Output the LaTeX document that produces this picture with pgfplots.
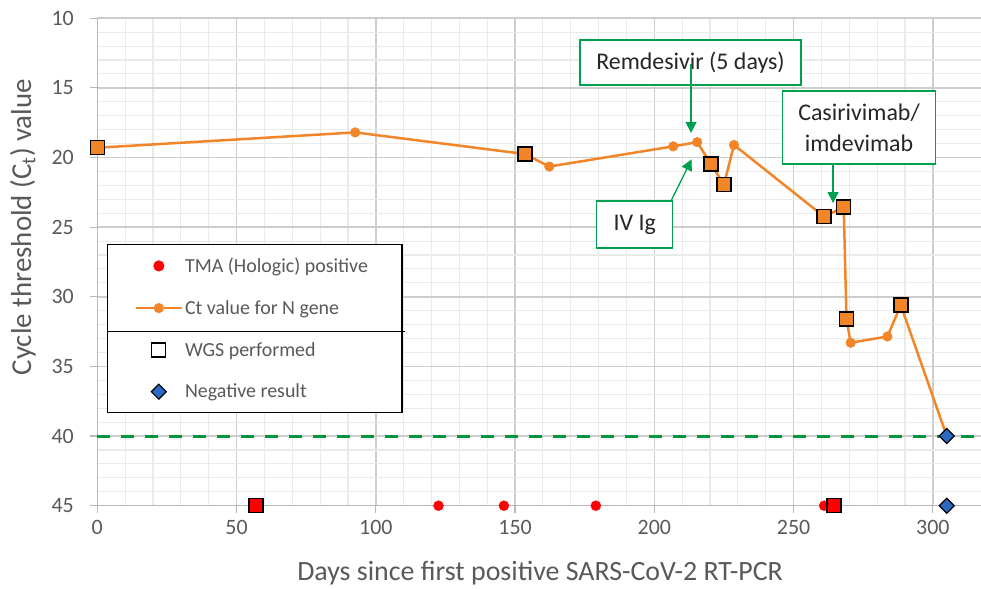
\documentclass[border=0pt]{standalone}
\usepackage{fontspec}
\setmainfont{Carlito}
\usepackage{pgfplots}
\pgfplotsset{compat=1.18}
\usetikzlibrary{arrows.meta}
\definecolor{ctorange}{RGB}{242,133,39}
\definecolor{tmared}{RGB}{255,0,0}
\definecolor{negblue}{RGB}{45,105,195}
\definecolor{annogreen}{RGB}{0,160,80}
\definecolor{dashgreen}{RGB}{0,150,60}
\definecolor{txtgray}{RGB}{89,89,89}
\definecolor{majgrid}{RGB}{205,205,205}
\definecolor{mingrid}{RGB}{234,234,234}
\definecolor{axgray}{RGB}{185,185,185}
\pgfplotsset{mylegimg/.style={legend image code/.code={\draw[mark repeat=2,mark phase=2] plot coordinates {(0bp,0bp) (23bp,0bp) (46bp,0bp)};}}}
\begin{document}
\begin{tikzpicture}
\path[use as bounding box] (-97.3bp,-83.3bp) rectangle (883.7bp,505.7bp);
\begin{axis}[
  at={(0,0)}, anchor=south west,
  scale only axis, width=883.7bp, height=487.5bp,
  xmin=0, xmax=317.3, ymin=10, ymax=45, y dir=reverse,
  clip=false,
  axis x line*=bottom, axis y line*=left,
  axis line style={-, axgray, line width=1.4bp},
  tick align=outside,
  major tick length=7bp, minor tick length=0pt,
  every tick/.style={axgray, line width=1.2bp},
  xtick={0,50,...,300}, ytick={10,15,...,45},
  minor x tick num=4, minor y tick num=4,
  grid=both,
  major grid style={majgrid, line width=1.5bp},
  minor grid style={mingrid, line width=1.1bp},
  ticklabel style={font=\fontsize{22}{22}\selectfont, text=txtgray},
  xticklabel style={yshift=-4bp},
  yticklabel style={xshift=-13bp},
  /pgf/number format/assume math mode=true,
  xlabel={Days since first positive SARS-CoV-2 RT-PCR},
  ylabel={Cycle threshold (C\textsubscript{t}) value},
  label style={text=txtgray},
  xlabel style={font=\fontsize{28}{28}\selectfont, at={(axis cs:159,49.83)}, anchor=center},
  ylabel style={font=\fontsize{29}{29}\selectfont, at={(axis cs:-26.7,25)}, anchor=center},
  legend style={at={(axis cs:3.5,26.2)}, anchor=north west, draw=black, line width=1.1bp,
    fill=white, font=\fontsize{20}{24}\selectfont, text=txtgray,
    inner xsep=27bp, inner ysep=11.5bp, row sep=22.5bp,
    /tikz/every even column/.append style={column sep=2bp}},
  legend cell align=left,
]
\addplot[dashgreen, line width=3bp, dash pattern=on 13bp off 11bp, forget plot] coordinates {(0,40) (317.3,40)};

\addplot[mylegimg, only marks, mark=*, mark size=5bp, tmared, mark options={draw=tmared, fill=tmared}] coordinates {
(122.5,45) (146,45) (179,45) (261,45)};
\addlegendentry{TMA (Hologic) positive\hspace*{5bp}}

\addplot[mylegimg, ctorange, line width=2.5bp, mark=*, mark size=4.8bp, mark options={fill=ctorange, draw=ctorange, line width=0.5bp}] coordinates {
(0,19.3) (92.6,18.2) (153.5,19.75) (162.3,20.65) (206.8,19.2) (215.4,18.9) (220.3,20.45) (225,21.95) (228.6,19.1) (261,24.25) (268,23.55) (269,31.6) (270.5,33.3) (283.7,32.85) (288.5,30.6) (305,40)};
\addlegendentry{Ct value for N gene}

\addplot[only marks, mark=square*, mark size=7bp, mark options={fill=ctorange, draw=black, line width=1.5bp}, forget plot] coordinates {
(0,19.3) (153.5,19.75) (220.3,20.45) (225,21.95) (261,24.25) (268,23.55) (269,31.6) (288.5,30.6)};
\addplot[only marks, mark=square*, mark size=7bp, mark options={fill=tmared, draw=black, line width=1.5bp}, forget plot] coordinates {
(57,45) (264.5,45)};
\addlegendimage{mylegimg, only marks, mark=square*, mark size=7bp, mark options={fill=white, draw=black, line width=1.2bp}}
\addlegendentry{WGS performed}

\addplot[mylegimg, only marks, mark=square*, mark size=5.3bp, mark options={rotate=45, fill=negblue, draw=black, line width=1.2bp}] coordinates {
(305,40) (305,45)};
\addlegendentry{Negative result}

\node[draw=annogreen, line width=1.3bp, fill=white, minimum width=221bp, minimum height=45bp, inner sep=0pt,
  font=\fontsize{24}{24}\selectfont, text=black!85] at (axis cs:213,13.18) {Remdesivir (5 days)};
\draw[annogreen, line width=1.3bp, -{Triangle[width=11bp,length=11bp]}] (axis cs:213.2,13.28) -- (axis cs:213.2,18.24);
\node[draw=annogreen, line width=1.3bp, fill=white, minimum width=76bp, minimum height=47bp, inner sep=0pt,
  font=\fontsize{24}{24}\selectfont, text=black!85] at (axis cs:193,24.81) {IV Ig};
\draw[annogreen, line width=1.3bp, -{Triangle[width=11bp,length=11bp]}] (axis cs:206,23.12) -- (axis cs:213.4,20.13);
\node[draw=annogreen, line width=1.3bp, fill=white, minimum width=153bp, minimum height=73bp, inner sep=0pt, align=center,
  font=\fontsize{24}{31}\selectfont, text=black!85] at (axis cs:273.5,17.85) {Casirivimab/\\imdevimab};
\draw[annogreen, line width=1.3bp, -{Triangle[width=11bp,length=11bp]}] (axis cs:264.2,20.47) -- (axis cs:264.2,23.27);
\coordinate (dl) at (axis cs:3.6,32.51);
\coordinate (dr) at (axis cs:110.5,32.51);
\end{axis}
\draw[black, line width=1.1bp] (dl) -- (dr);
\end{tikzpicture}
\end{document}
